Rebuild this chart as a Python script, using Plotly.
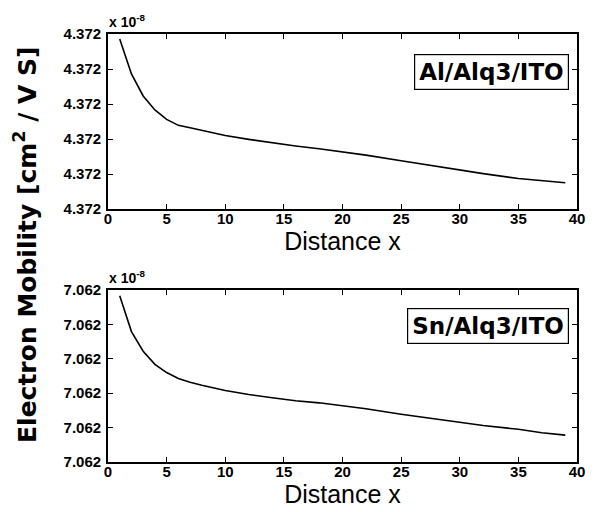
import plotly.graph_objects as go

# Data (normalized within displayed axis range 0..5 ticks)
x_top = [1, 2, 3, 4, 5, 6, 7, 8, 9, 10, 12, 14, 16, 18, 20, 22, 25, 28, 30, 32, 35, 37, 39]
y_top = [4.86, 3.86, 3.23, 2.83, 2.56, 2.39, 2.32, 2.24, 2.16, 2.10, 1.99, 1.89, 1.80,
         1.72, 1.64, 1.54, 1.38, 1.22, 1.11, 1.01, 0.87, 0.80, 0.75]
x_bot = [1, 2, 3, 4, 5, 6, 7, 8, 10, 12, 14, 16, 18, 20, 22, 25, 28, 30, 32, 35, 37, 39]
y_bot = [4.83, 3.79, 3.22, 2.84, 2.60, 2.43, 2.32, 2.23, 2.08, 1.96, 1.87, 1.78, 1.72,
         1.63, 1.55, 1.39, 1.25, 1.14, 1.06, 0.95, 0.85, 0.78]
x_ticks = [0, 5, 10, 15, 20, 25, 30, 35, 40]
y_ticks = [0, 1, 2, 3, 4, 5]
top_ticktext = ["4.372"] * 6
bot_ticktext = ["7.062"] * 6
top_label = "Al/Alq3/ITO"
bot_label = "Sn/Alq3/ITO"

FONT = "Liberation Sans, Arial, sans-serif"
HEAVY = "DejaVu Sans, sans-serif"
W, H = 606, 512
OFF = 8  # page body margin

def px_x(p):
    return (p - OFF) / W

def px_y(p):
    return 1 - (p - OFF) / H

fig = go.Figure()
fig.add_trace(go.Scatter(x=x_top, y=y_top, mode="lines", line=dict(color="black", width=1.6),
                         xaxis="x", yaxis="y", showlegend=False))
fig.add_trace(go.Scatter(x=x_bot, y=y_bot, mode="lines", line=dict(color="black", width=1.6),
                         xaxis="x2", yaxis="y2", showlegend=False))

xdom = [px_x(108), px_x(577)]
ydom_top = [px_y(209), px_y(34)]
ydom_bot = [px_y(462), px_y(290)]

def xax(anchor):
    return dict(domain=xdom, anchor=anchor, range=[0, 40], tickvals=x_ticks,
                automargin=False,
                ticks="inside", ticklen=5, tickwidth=1.2, tickcolor="black",
                showline=True, linecolor="black", linewidth=1.8, mirror="ticks",
                showgrid=False, zeroline=False, ticklabelstandoff=-5,
                tickfont=dict(family=FONT, size=15, color="black", weight="bold"),
                title=dict(text="Distance x", standoff=0,
                           font=dict(family=FONT, size=25, color="black")))

def yax(anchor, dom, tt):
    return dict(domain=dom, anchor=anchor, range=[0, 5], tickvals=y_ticks, ticktext=tt,
                automargin=False,
                ticks="inside", ticklen=5, tickwidth=1.2, tickcolor="black",
                showline=True, linecolor="black", linewidth=1.8, mirror="ticks",
                showgrid=False, zeroline=False, ticklabelstandoff=2,
                tickfont=dict(family=FONT, size=15, color="black", weight="bold"))

fig.update_layout(
    template="none",
    width=W, height=H, margin=dict(l=0, r=0, t=0, b=0),
    paper_bgcolor="white", plot_bgcolor="white",
    xaxis=xax("y"), yaxis=yax("x", ydom_top, top_ticktext),
    xaxis2=xax("y2"), yaxis2=yax("x2", ydom_bot, bot_ticktext),
)

ann = []
# exponent labels
for ytop in (ydom_top[1], ydom_bot[1]):
    ann.append(dict(xref="paper", yref="paper", x=xdom[0] - 0.002, y=ytop, yshift=2,
                    xanchor="left", yanchor="bottom", showarrow=False,
                    text="x 10<sup>-8</sup>",
                    font=dict(family=FONT, size=14, color="black", weight="bold")))
# boxed labels
for lbl, xr, yr, yy in ((top_label, "x", "y", 0.782), (bot_label, "x2", "y2", 0.792)):
    ann.append(dict(xref=xr + " domain", yref=yr + " domain", x=0.983, y=yy,
                    xanchor="right", yanchor="middle", showarrow=False, text=lbl,
                    font=dict(family=HEAVY, size=23, color="black", weight="bold"),
                    bordercolor="black", borderwidth=1.2, borderpad=4, bgcolor="white"))
# y title
ann.append(dict(xref="paper", yref="paper", x=px_x(25), y=px_y(245), textangle=-90,
                xanchor="center", yanchor="middle", showarrow=False,
                text="Electron Mobility [cm<sup>2</sup> / V S]",
                font=dict(family=HEAVY, size=25, color="black", weight="bold")))
fig.update_layout(annotations=ann)

fig.write_html("out.html")
